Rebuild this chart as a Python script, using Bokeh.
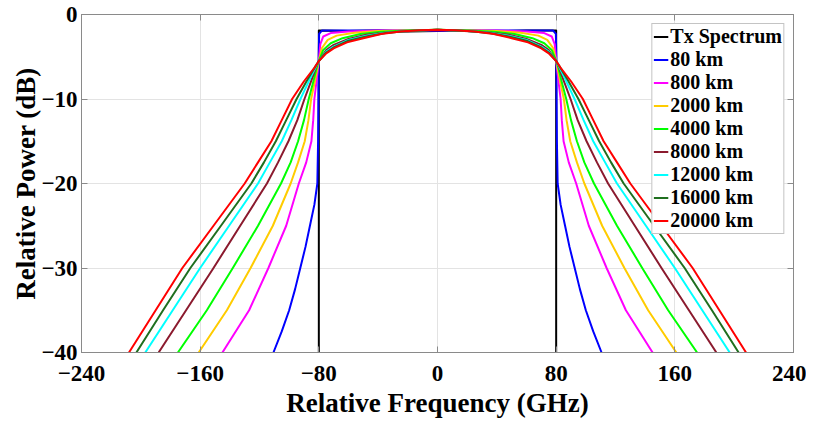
from bokeh.plotting import figure
from bokeh.models import FixedTicker, LinearAxis, Range1d, Legend, LegendItem
from bokeh.embed import file_html
from bokeh.resources import INLINE

# ---- data (frequency in GHz, power in dB) ----
tx_f = [-80, -80, -60, -40, -20, 0, 20, 40, 60, 80, 80]
tx_p = [-40, -1.9, -1.95, -1.9, -2.0, -1.95, -1.9, -2.0, -1.9, -1.9, -40]

km80_f = [-110.6, -105, -100, -96, -92.5, -89, -86, -83, -81, -80.5, -80.3, -80.1, -79.8, -78, -40, 0,
          40, 78, 79.8, 80.1, 80.3, 80.5, 81, 83, 86, 89, 92.5, 96, 100, 105, 110.6]
km80_p = [-40, -37.5, -35, -32.5, -30, -27.5, -25, -22.5, -20, -15, -10, -5, -2.3, -1.9, -1.9, -1.9,
          -1.9, -1.9, -2.3, -5, -10, -15, -20, -22.5, -25, -27.5, -30, -32.5, -35, -37.5, -40]

km800_f = [-145, -127, -114, -102, -93.5, -88.5, -85, -83.8, -83, -81.5, -80.5, -80, -79, -77, -72, -60, -40, 0,
           40, 60, 72, 77, 79, 80, 80.5, 81.5, 83, 83.8, 85, 88.5, 93.5, 102, 114, 127, 145]
km800_p = [-40, -35, -30, -25, -20, -17.5, -15, -12.5, -10, -7.8, -6.2, -5.5, -3.5, -2.6, -2.2, -2.0, -1.9, -1.85,
           -1.9, -2.0, -2.2, -2.6, -3.5, -5.5, -6.2, -7.8, -10, -12.5, -15, -17.5, -20, -25, -30, -35, -40]

km2000_f = [-161, -142, -126, -111, -99, -94, -89.5, -87, -85.2, -82.5, -80.8, -80, -78, -74, -68, -56, -40, -20, 0,
            20, 40, 56, 68, 74, 78, 80, 80.8, 82.5, 85.2, 87, 89.5, 94, 99, 111, 126, 142, 161]
km2000_p = [-40, -35, -30, -25, -20, -17.5, -15, -12.5, -10, -7.8, -6.2, -5.5, -4.0, -3.0, -2.5, -2.15, -1.95, -1.9, -1.8,
            -1.9, -1.95, -2.15, -2.5, -3.0, -4.0, -5.5, -6.2, -7.8, -10, -12.5, -15, -17.5, -20, -25, -30, -35, -40]

km4000_f = [-175, -155.5, -138, -121, -105.5, -99, -94, -90, -86.8, -83.5, -81.3, -80, -77, -72, -64, -52, -38, -20, 0,
            20, 38, 52, 64, 72, 77, 80, 81.3, 83.5, 86.8, 90, 94, 99, 105.5, 121, 138, 155.5, 175]
km4000_p = [-40, -35, -30, -25, -20, -17.5, -15, -12.5, -10, -7.8, -6.2, -5.5, -4.2, -3.4, -2.8, -2.3, -2.05, -1.9, -1.8,
            -1.9, -2.05, -2.3, -2.8, -3.4, -4.2, -5.5, -6.2, -7.8, -10, -12.5, -15, -17.5, -20, -25, -30, -35, -40]

km8000_f = [-188, -169.5, -151, -133, -115, -107.5, -100.5, -94.5, -89.7, -85, -81.8, -80, -75, -70, -60, -48, -33, -18, 0,
            18, 33, 48, 60, 70, 75, 80, 81.8, 85, 89.7, 94.5, 100.5, 107.5, 115, 133, 151, 169.5, 188]
km8000_p = [-40, -35, -30, -25, -20, -17.5, -15, -12.5, -10, -7.8, -6.2, -5.5, -4.2, -3.6, -2.9, -2.4, -2.1, -1.95, -1.8,
            -1.95, -2.1, -2.4, -2.9, -3.6, -4.2, -5.5, -6.2, -7.8, -10, -12.5, -15, -17.5, -20, -25, -30, -35, -40]

km12000_f = [-197, -178.5, -160, -140.5, -121, -113, -105, -98.5, -92.4, -86.5, -82, -80, -75, -70, -60, -48, -35, -20, 0,
             20, 35, 48, 60, 70, 75, 80, 82, 86.5, 92.4, 98.5, 105, 113, 121, 140.5, 160, 178.5, 197]
km12000_p = [-40, -35, -30, -25, -20, -17.5, -15, -12.5, -10, -7.8, -6.2, -5.5, -4.4, -3.8, -3.0, -2.5, -2.15, -1.95, -1.8,
             -1.95, -2.15, -2.5, -3.0, -3.8, -4.4, -5.5, -6.2, -7.8, -10, -12.5, -15, -17.5, -20, -25, -30, -35, -40]

km16000_f = [-203, -185, -166.6, -146, -125.5, -117, -109, -102, -95, -88, -82.5, -80, -75, -70, -60, -48, -35, -20, 0,
             20, 35, 48, 60, 70, 75, 80, 82.5, 88, 95, 102, 109, 117, 125.5, 146, 166.6, 185, 203]
km16000_p = [-40, -35, -30, -25, -20, -17.5, -15, -12.5, -10, -7.8, -6.2, -5.5, -4.5, -3.9, -3.1, -2.6, -2.2, -1.95, -1.8,
             -1.95, -2.2, -2.6, -3.1, -3.9, -4.5, -5.5, -6.2, -7.8, -10, -12.5, -15, -17.5, -20, -25, -30, -35, -40]

km20000_f = [-208, -190, -172, -151, -130, -121, -112, -105, -98, -90, -83, -80, -75, -70, -61, -50, -38, -25, -12, 0,
             12, 25, 38, 50, 61, 70, 75, 80, 83, 90, 98, 105, 112, 121, 130, 151, 172, 190, 208]
km20000_p = [-40, -35, -30, -25, -20, -17.5, -15, -12.5, -10, -7.9, -6.3, -5.5, -4.6, -4.0, -3.3, -2.8, -2.3, -2.0, -1.85, -1.8,
             -1.85, -2.0, -2.3, -2.8, -3.3, -4.0, -4.6, -5.5, -6.3, -7.9, -10, -12.5, -15, -17.5, -20, -25, -30, -35, -40]

labels = ["Tx Spectrum", "80 km", "800 km", "2000 km", "4000 km",
          "8000 km", "12000 km", "16000 km", "20000 km"]
colors = ["#000000", "#0000ff", "#ff00ff", "#ffcc00", "#00ff00",
          "#8b1a2e", "#00ffff", "#1f6f1f", "#ff0000"]
series_f = [tx_f, km80_f, km800_f, km2000_f, km4000_f, km8000_f, km12000_f, km16000_f, km20000_f]
series_p = [tx_p, km80_p, km800_p, km2000_p, km4000_p, km8000_p, km12000_p, km16000_p, km20000_p]

x_ticks = [-240, -160, -80, 0, 80, 160, 240]
y_ticks = [-40, -30, -20, -10, 0]

FONT = "Liberation Serif"
AX = "#8a8a8a"

p = figure(width=806, height=421, output_backend="svg", toolbar_location=None,
           x_range=Range1d(-240, 240), y_range=Range1d(-40, 0),
           min_border_left=81, min_border_right=13, min_border_top=14, min_border_bottom=69)
p.background_fill_color = "white"
p.border_fill_color = "white"
p.outline_line_color = AX
p.outline_line_width = 1

items = []
for f, pw, c, lab in zip(series_f, series_p, colors, labels):
    r = p.line(f, pw, line_color=c, line_width=2, line_join="round")
    items.append(LegendItem(label=lab, renderers=[r]))

for ax in [p.xaxis[0], p.yaxis[0]]:
    ax.major_tick_in = 6
    ax.major_tick_out = 0
    ax.minor_tick_line_color = None
    ax.axis_line_color = AX
    ax.major_tick_line_color = AX
    ax.major_label_text_font = FONT
    ax.major_label_text_font_style = "bold"
    ax.major_label_text_font_size = "23px"
    ax.major_label_text_color = "#000000"
    ax.axis_label_text_font = FONT
    ax.axis_label_text_font_style = "bold"
    ax.axis_label_text_font_size = "27px"
    ax.axis_label_text_color = "#000000"

p.xaxis[0].ticker = FixedTicker(ticks=x_ticks)
p.yaxis[0].ticker = FixedTicker(ticks=y_ticks)
p.xaxis[0].axis_label = "Relative Frequency (GHz)"
p.yaxis[0].axis_label = "Relative Power (dB)"
p.xaxis[0].major_label_standoff = 13
p.xaxis[0].axis_label_standoff = 4
p.yaxis[0].major_label_standoff = 4
p.yaxis[0].axis_label_standoff = -3

top = LinearAxis(ticker=FixedTicker(ticks=x_ticks), major_label_text_font_size="1px",
                 major_label_text_color=None, major_label_standoff=0,
                 major_tick_in=6, major_tick_out=0, minor_tick_line_color=None,
                 axis_line_color=AX, major_tick_line_color=AX)
right = LinearAxis(ticker=FixedTicker(ticks=y_ticks), major_label_text_font_size="1px",
                   major_label_text_color=None, major_label_standoff=0,
                   major_tick_in=6, major_tick_out=0, minor_tick_line_color=None,
                   axis_line_color=AX, major_tick_line_color=AX)
p.add_layout(top, "above")
p.add_layout(right, "right")

p.xgrid.ticker = FixedTicker(ticks=x_ticks)
p.ygrid.ticker = FixedTicker(ticks=y_ticks)
p.grid.grid_line_color = "#e3e3e3"
p.grid.grid_line_width = 1

legend = Legend(items=items, location="top_right")
legend.margin = 9
legend.padding = 1
legend.spacing = 0
legend.glyph_width = 15
legend.glyph_height = 23
legend.label_height = 23
legend.label_standoff = 2
legend.label_text_font = FONT
legend.label_text_font_style = "bold"
legend.label_text_font_size = "20px"
legend.label_text_color = "#000000"
legend.border_line_color = AX
legend.border_line_width = 1
legend.background_fill_color = "white"
legend.background_fill_alpha = 1
p.add_layout(legend, "center")

open("out.html", "w").write(file_html(p, INLINE))
